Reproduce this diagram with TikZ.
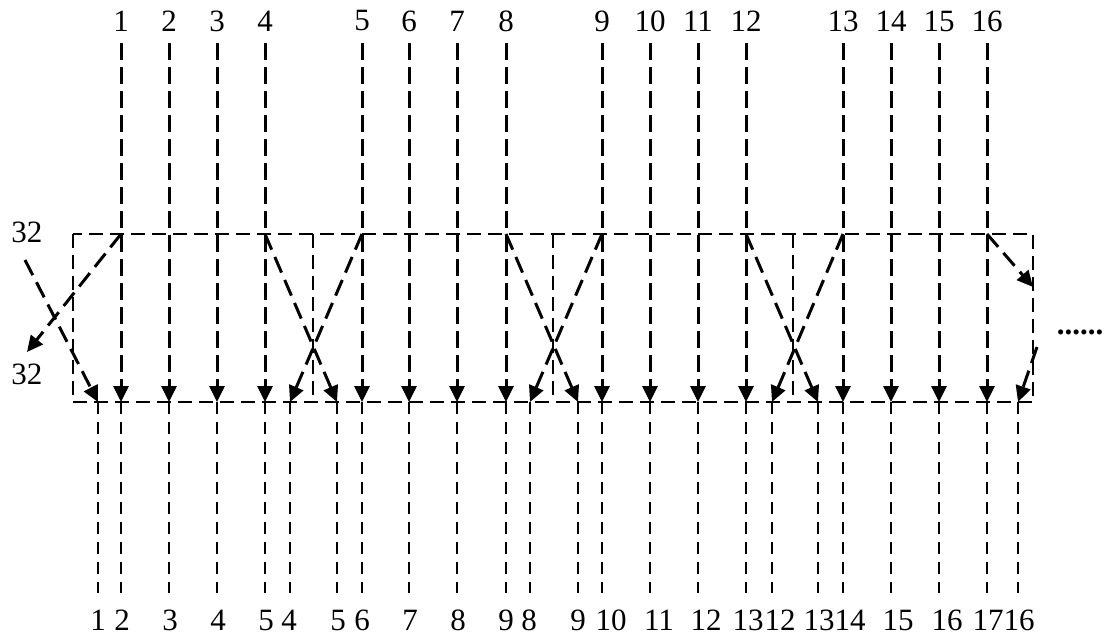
\documentclass[tikz,border=0pt]{standalone}
\usepackage{fontspec}
\setmainfont{Liberation Serif}
\usetikzlibrary{arrows.meta}
\begin{document}
\begin{tikzpicture}[x=1pt,y=-1pt,
  lbl/.style={font=\fontsize{31}{31}\selectfont, inner sep=0pt},
  upline/.style={line width=3pt, dash pattern=on 17pt off 7pt},
  diagline/.style={line width=3pt, dash pattern=on 17pt off 8pt},
  boxline/.style={line width=2.6pt, dash pattern=on 14pt off 7pt},
  lowline/.style={line width=2.4pt, dash pattern=on 12pt off 8pt},
  arr/.style={-{Triangle[length=16pt,width=15pt]}},
]
\useasboundingbox (0,0) rectangle (1104,637);
% box frame and dividers
\draw[boxline] (73,234) rectangle (1033,402);
\foreach \d in {313,553,793} {\draw[boxline] (\d,234) -- (\d,402);}
% bottom arrival points, lower lines and labels
\foreach \k/\x/\lx/\l in {1/98/98/1, 2/121/122/2, 3/169/170/3, 4/217/218/4, 5/265/266/5, 6/290/289/4, 7/337/338/5, 8/362/362/6, 9/409/410/7, 10/457/458/8, 11/506/506/9, 12/530/529/8, 13/578/578/9, 14/602/611/10, 15/650/659/11, 16/698/706/12, 17/746/748/13, 18/772/780/12, 19/818/819/13, 20/843/850/14, 21/891/898/15, 22/939/947/16, 23/987/988/17, 24/1018/1019/16} {
  \coordinate (a\k) at (\x,402);
  \coordinate (e\k) at (\x,593);
  \node[lbl] (b\k) at (\lx,620) {\l};
  \draw[lowline] (a\k) -- (e\k);
}
% top labels and vertical lines
\foreach \i/\x/\k in {1/121/2, 2/169/3, 3/217/4, 4/265/5, 5/362/8, 6/409/9, 7/457/10, 8/506/11, 9/602/14, 10/650/15, 11/698/16, 12/746/17, 13/843/20, 14/891/21, 15/939/22, 16/987/23} {
  \node[lbl] (t\i) at (\x,21) {\i};
  \coordinate (s\i) at (\x,43);
  \coordinate (c\i) at (\x,234);
  \draw[upline, arr] (s\i) -- (a\k);
}
% left side
\node[lbl] (l32a) at (27,232) {32};
\node[lbl] (l32b) at (27,374) {32};
\coordinate (Lin) at (25,260);
\coordinate (Lout) at (27,352);
\draw[diagline, arr] (c1) -- (Lout);
\draw[diagline, arr] (Lin) -- (a1);
% crossings
\draw[diagline, arr] (c4) -- (a7);
\draw[diagline, arr] (c5) -- (a6);
\draw[diagline, arr] (c8) -- (a13);
\draw[diagline, arr] (c9) -- (a12);
\draw[diagline, arr] (c12) -- (a19);
\draw[diagline, arr] (c13) -- (a18);
% right side
\coordinate (R1) at (1033,287);
\coordinate (R2) at (1037,347);
\draw[diagline, arr] (c16) -- (R1);
\draw[diagline, arr] (R2) -- (a24);
\node[lbl, anchor=base, font=\fontsize{31}{31}\selectfont\bfseries] (dots) at (1080,334) {......};
\end{tikzpicture}
\end{document}
